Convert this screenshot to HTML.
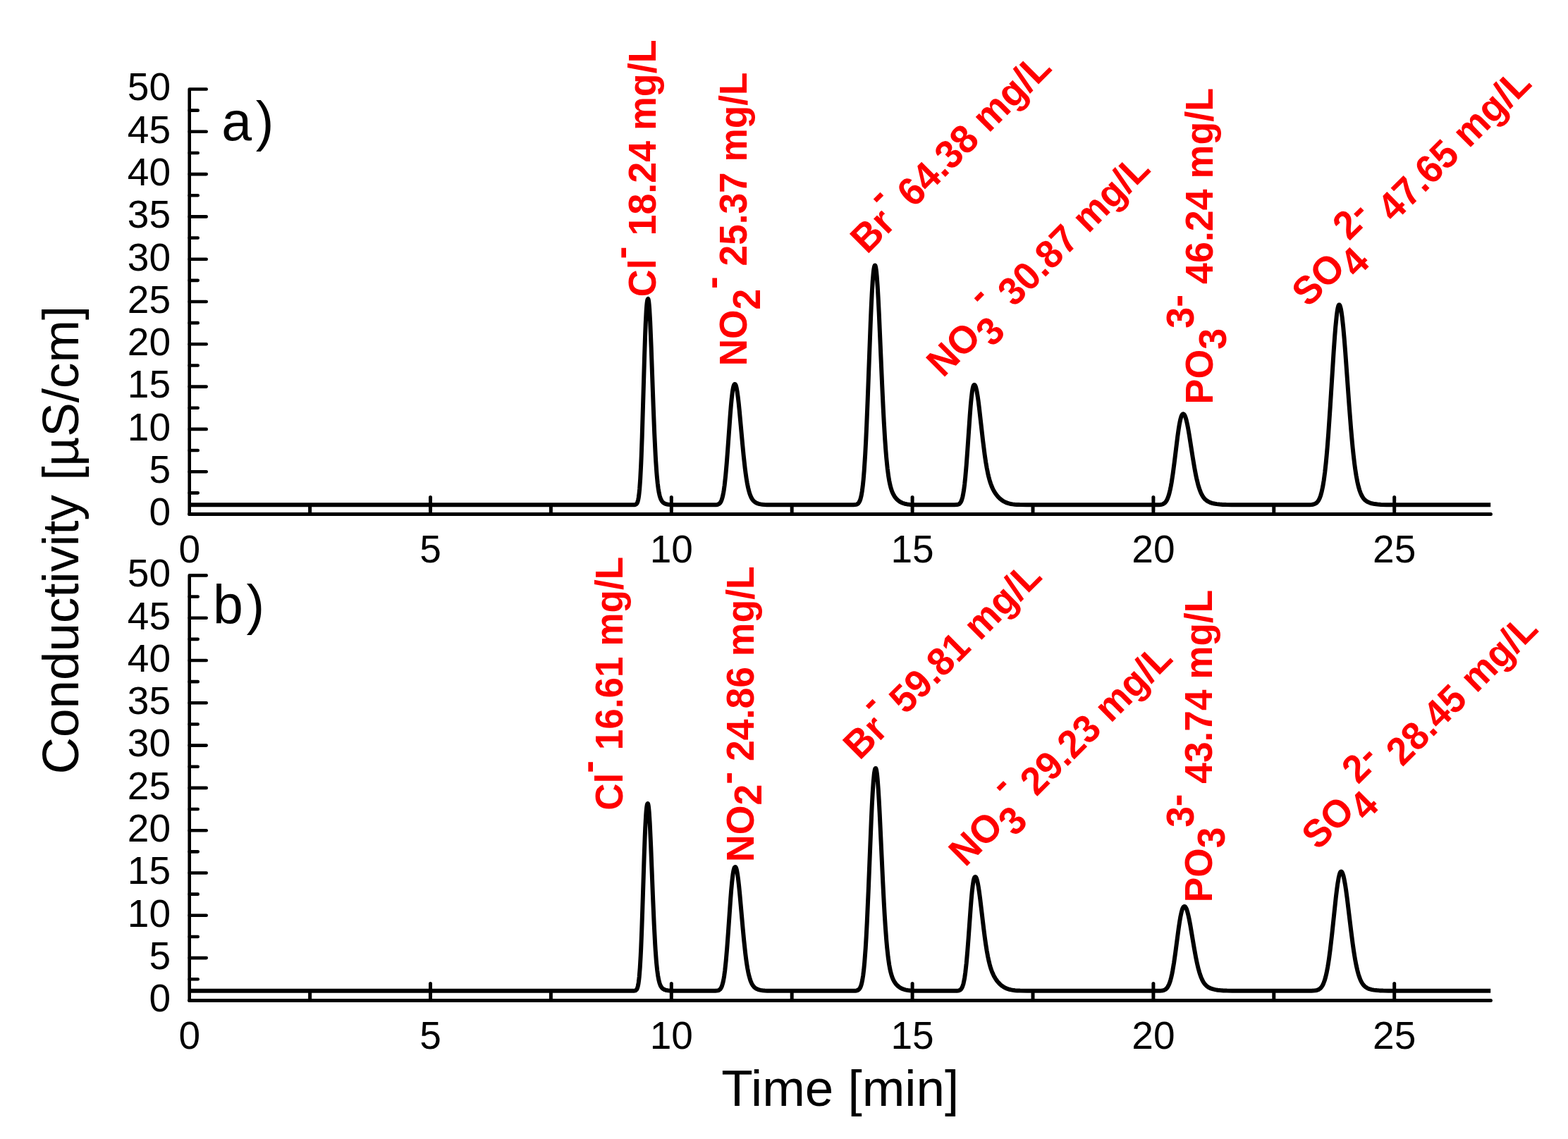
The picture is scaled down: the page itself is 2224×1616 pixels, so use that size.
<!DOCTYPE html>
<html><head><meta charset="utf-8"><title>Conductivity chromatogram</title><style>
html,body{margin:0;padding:0;background:#fff;}
svg{display:block;}
.ax{fill:none;stroke:#000;stroke-width:4.6;stroke-linecap:round;stroke-linejoin:round;}
.sig{fill:none;stroke:#000;stroke-width:6;stroke-linejoin:round;stroke-linecap:butt;}
text{font-family:"Liberation Sans",sans-serif;}
.tl{font-size:55px;fill:#000;}
.rl{font-size:54px;font-weight:bold;fill:#f00;}
.pl{font-size:77px;fill:#000;}
.tt{font-size:72.8px;fill:#000;}
</style></head><body>
<svg width="2224" height="1616" viewBox="0 0 2224 1616">
<rect width="100%" height="100%" fill="#fff"/>
<path d="M292.7,126.50 H268.70 V729.50" class="ax"/>
<path d="M268.70,729.50 H2114.42" class="ax" style="stroke-width:5"/>
<path d="M268.70,729.50 h24" class="ax"/>
<path d="M268.70,699.35 h12" class="ax"/>
<path d="M268.70,669.20 h24" class="ax"/>
<path d="M268.70,639.05 h12" class="ax"/>
<path d="M268.70,608.90 h24" class="ax"/>
<path d="M268.70,578.75 h12" class="ax"/>
<path d="M268.70,548.60 h24" class="ax"/>
<path d="M268.70,518.45 h12" class="ax"/>
<path d="M268.70,488.30 h24" class="ax"/>
<path d="M268.70,458.15 h12" class="ax"/>
<path d="M268.70,428.00 h24" class="ax"/>
<path d="M268.70,397.85 h12" class="ax"/>
<path d="M268.70,367.70 h24" class="ax"/>
<path d="M268.70,337.55 h12" class="ax"/>
<path d="M268.70,307.40 h24" class="ax"/>
<path d="M268.70,277.25 h12" class="ax"/>
<path d="M268.70,247.10 h24" class="ax"/>
<path d="M268.70,216.95 h12" class="ax"/>
<path d="M268.70,186.80 h24" class="ax"/>
<path d="M268.70,156.65 h12" class="ax"/>
<path d="M439.60,729.50 v-12" class="ax" style="stroke-width:5"/>
<path d="M610.50,729.50 v-24" class="ax" style="stroke-width:5"/>
<path d="M781.40,729.50 v-12" class="ax" style="stroke-width:5"/>
<path d="M952.30,729.50 v-24" class="ax" style="stroke-width:5"/>
<path d="M1123.20,729.50 v-12" class="ax" style="stroke-width:5"/>
<path d="M1294.10,729.50 v-24" class="ax" style="stroke-width:5"/>
<path d="M1465.00,729.50 v-12" class="ax" style="stroke-width:5"/>
<path d="M1635.90,729.50 v-24" class="ax" style="stroke-width:5"/>
<path d="M1806.80,729.50 v-12" class="ax" style="stroke-width:5"/>
<path d="M1977.70,729.50 v-24" class="ax" style="stroke-width:5"/>
<text x="242" y="745.3" class="tl" text-anchor="end">0</text>
<text x="242" y="685.0" class="tl" text-anchor="end">5</text>
<text x="242" y="624.7" class="tl" text-anchor="end">10</text>
<text x="242" y="564.4" class="tl" text-anchor="end">15</text>
<text x="242" y="504.1" class="tl" text-anchor="end">20</text>
<text x="242" y="443.8" class="tl" text-anchor="end">25</text>
<text x="242" y="383.5" class="tl" text-anchor="end">30</text>
<text x="242" y="323.2" class="tl" text-anchor="end">35</text>
<text x="242" y="262.9" class="tl" text-anchor="end">40</text>
<text x="242" y="202.6" class="tl" text-anchor="end">45</text>
<text x="242" y="142.3" class="tl" text-anchor="end">50</text>
<text x="268.7" y="797.6" class="tl" text-anchor="middle">0</text>
<text x="610.5" y="797.6" class="tl" text-anchor="middle">5</text>
<text x="952.3" y="797.6" class="tl" text-anchor="middle">10</text>
<text x="1294.1" y="797.6" class="tl" text-anchor="middle">15</text>
<text x="1635.9" y="797.6" class="tl" text-anchor="middle">20</text>
<text x="1977.7" y="797.6" class="tl" text-anchor="middle">25</text>
<polyline class="sig" points="268.7,716.30 895.7,716.30 899.7,716.21 900.7,716.07 901.7,715.75 902.2,715.46 902.7,715.04 903.2,714.44 903.7,713.61 904.2,712.46 904.7,710.92 905.2,708.87 905.7,706.20 906.2,702.78 906.7,698.48 907.2,693.16 908.2,678.98 909.2,659.46 909.7,647.59 910.7,619.84 914.2,501.97 915.2,472.54 915.7,460.10 916.7,440.69 917.2,433.89 917.7,429.00 918.2,425.90 918.7,424.36 919.2,424.00 919.7,424.98 920.2,427.90 920.7,432.69 921.2,439.27 922.2,457.19 923.7,493.21 926.7,576.97 928.2,614.62 929.7,645.47 930.2,654.07 931.2,668.82 931.7,675.03 932.7,685.35 933.7,693.25 934.7,699.16 935.7,703.54 936.2,705.27 937.2,708.01 937.7,709.09 938.7,710.82 939.2,711.50 940.2,712.61 941.2,713.45 942.2,714.09 943.2,714.59 944.7,715.14 946.2,715.53 947.7,715.79 951.2,716.13 954.7,716.25 960.2,716.29 1010.7,716.30 1015.7,716.17 1017.2,715.97 1018.2,715.73 1019.2,715.33 1020.2,714.70 1021.2,713.74 1022.2,712.32 1023.2,710.28 1023.7,708.96 1024.7,705.63 1025.2,703.57 1026.2,698.51 1026.7,695.47 1027.7,688.30 1029.2,674.64 1030.7,657.63 1032.2,637.89 1035.7,589.05 1036.7,576.74 1037.7,566.11 1038.7,557.51 1039.2,554.06 1039.7,551.18 1040.2,548.89 1040.7,547.16 1041.2,545.97 1041.7,545.28 1042.2,545.02 1042.4,545.00 1042.7,545.09 1043.2,545.67 1043.7,546.76 1044.2,548.37 1044.7,550.46 1045.7,556.04 1046.7,563.29 1047.7,571.96 1048.7,581.74 1053.2,631.04 1054.7,646.47 1056.7,664.51 1057.7,672.24 1058.7,679.09 1059.7,685.07 1060.7,690.23 1061.7,694.63 1063.2,699.96 1064.2,702.80 1065.7,706.16 1067.2,708.67 1068.2,709.98 1069.2,711.05 1070.7,712.32 1072.2,713.27 1074.2,714.20 1076.2,714.84 1078.7,715.39 1081.2,715.74 1084.2,716.00 1087.7,716.16 1101.2,716.30 1207.7,716.29 1210.7,716.24 1212.7,716.11 1214.2,715.86 1215.2,715.55 1216.2,715.05 1217.2,714.27 1218.2,713.09 1219.2,711.34 1220.2,708.80 1220.7,707.16 1221.7,702.95 1222.7,697.25 1223.7,689.72 1224.7,680.01 1225.7,667.85 1227.2,644.51 1228.2,625.45 1229.2,603.71 1230.7,566.83 1234.7,460.06 1235.7,436.48 1236.7,416.06 1237.7,399.53 1238.7,387.40 1239.2,383.07 1239.7,379.87 1240.2,377.78 1240.7,376.72 1241.1,376.50 1241.2,376.52 1241.7,377.37 1242.2,379.41 1242.7,382.62 1243.2,386.96 1243.7,392.39 1244.7,406.26 1245.7,423.60 1246.7,443.70 1251.2,546.98 1252.7,578.83 1253.7,597.96 1255.2,623.00 1256.2,637.16 1257.2,649.37 1258.7,664.32 1260.2,675.77 1261.2,681.80 1262.2,686.78 1263.2,690.89 1264.2,694.31 1265.2,697.15 1266.2,699.55 1267.2,701.59 1268.7,704.14 1270.2,706.22 1272.2,708.47 1273.7,709.85 1275.7,711.36 1277.7,712.57 1280.2,713.73 1283.2,714.70 1286.7,715.42 1290.7,715.88 1295.2,716.13 1307.2,716.29 1353.7,716.28 1357.2,716.10 1358.7,715.81 1359.7,715.44 1360.7,714.83 1361.2,714.41 1362.2,713.24 1362.7,712.45 1363.7,710.35 1364.2,708.98 1365.2,705.46 1365.7,703.26 1366.7,697.83 1367.2,694.55 1368.2,686.77 1369.2,677.29 1370.7,659.98 1372.2,639.58 1375.7,588.70 1376.7,576.02 1377.7,565.24 1378.7,556.75 1379.2,553.45 1379.7,550.77 1380.2,548.73 1380.7,547.30 1381.2,546.43 1381.7,546.04 1382.0,546.00 1382.2,546.03 1382.7,546.39 1383.2,547.13 1383.7,548.27 1384.2,549.77 1385.2,553.86 1385.7,556.41 1386.7,562.40 1387.7,569.44 1388.7,577.31 1394.2,625.75 1396.7,645.39 1398.2,655.49 1399.7,664.25 1401.2,671.70 1402.2,676.00 1403.2,679.83 1404.2,683.24 1405.2,686.27 1406.2,688.97 1407.7,692.51 1408.7,694.58 1410.2,697.33 1411.7,699.74 1413.2,701.86 1414.7,703.75 1416.7,705.95 1418.2,707.39 1420.2,709.06 1422.2,710.48 1424.2,711.67 1426.2,712.66 1428.7,713.64 1431.2,714.39 1433.7,714.96 1436.2,715.37 1439.2,715.71 1442.2,715.94 1446.2,716.12 1456.2,716.27 1639.7,716.28 1643.7,716.19 1646.2,715.97 1648.2,715.57 1649.2,715.25 1650.2,714.80 1651.7,713.81 1653.2,712.30 1654.2,710.92 1654.7,710.09 1655.7,708.12 1656.7,705.67 1657.7,702.69 1658.7,699.12 1659.7,694.90 1660.7,690.02 1661.7,684.45 1663.7,671.36 1665.7,656.13 1670.2,619.63 1671.7,608.97 1672.7,602.81 1673.7,597.59 1674.2,595.36 1675.2,591.72 1675.7,590.32 1676.2,589.20 1676.7,588.35 1677.2,587.76 1677.7,587.42 1678.3,587.30 1678.7,587.38 1679.2,587.69 1679.7,588.23 1680.2,589.01 1681.2,591.25 1681.7,592.69 1682.7,596.19 1684.2,602.81 1685.2,608.00 1686.7,616.67 1691.7,648.63 1694.2,663.62 1695.7,671.67 1696.7,676.56 1697.7,681.06 1699.2,687.06 1700.2,690.56 1701.7,695.13 1703.2,698.93 1704.7,702.05 1706.2,704.59 1707.7,706.65 1708.7,707.80 1709.7,708.79 1711.7,710.41 1713.7,711.64 1716.2,712.80 1719.2,713.80 1722.2,714.52 1725.7,715.12 1729.7,715.59 1734.2,715.91 1739.2,716.11 1746.7,716.24 1757.7,716.29 1853.7,716.27 1857.7,716.18 1860.7,715.94 1863.2,715.47 1865.2,714.74 1866.7,713.86 1867.7,713.06 1868.7,712.02 1869.7,710.70 1870.7,709.03 1871.7,706.96 1873.2,702.92 1874.7,697.50 1876.2,690.42 1877.7,681.38 1879.2,670.11 1880.7,656.41 1881.7,645.88 1882.7,634.23 1884.2,614.76 1886.7,577.80 1891.7,498.24 1893.2,477.04 1894.2,464.59 1895.7,449.18 1896.7,441.46 1897.2,438.45 1897.7,436.03 1898.2,434.21 1898.7,433.02 1899.2,432.45 1899.4,432.40 1899.7,432.49 1900.2,433.04 1900.7,434.09 1901.2,435.63 1901.7,437.65 1902.2,440.14 1902.7,443.09 1903.7,450.30 1905.2,464.08 1906.7,480.85 1908.2,499.87 1913.7,576.38 1916.2,608.45 1917.7,625.59 1918.7,635.99 1919.7,645.54 1921.2,658.25 1922.2,665.68 1923.7,675.32 1925.2,683.32 1926.7,689.85 1928.2,695.13 1929.7,699.35 1930.7,701.66 1931.7,703.65 1932.7,705.34 1933.7,706.79 1934.7,708.02 1935.7,709.08 1937.7,710.76 1938.7,711.44 1940.2,712.28 1942.7,713.36 1945.7,714.28 1949.7,715.08 1953.7,715.58 1958.7,715.95 1966.7,716.20 1978.7,716.29 2114.2,716.30"/>
<path d="M292.7,816.40 H268.70 V1419.40" class="ax"/>
<path d="M268.70,1419.40 H2114.42" class="ax" style="stroke-width:5"/>
<path d="M268.70,1419.40 h24" class="ax"/>
<path d="M268.70,1389.25 h12" class="ax"/>
<path d="M268.70,1359.10 h24" class="ax"/>
<path d="M268.70,1328.95 h12" class="ax"/>
<path d="M268.70,1298.80 h24" class="ax"/>
<path d="M268.70,1268.65 h12" class="ax"/>
<path d="M268.70,1238.50 h24" class="ax"/>
<path d="M268.70,1208.35 h12" class="ax"/>
<path d="M268.70,1178.20 h24" class="ax"/>
<path d="M268.70,1148.05 h12" class="ax"/>
<path d="M268.70,1117.90 h24" class="ax"/>
<path d="M268.70,1087.75 h12" class="ax"/>
<path d="M268.70,1057.60 h24" class="ax"/>
<path d="M268.70,1027.45 h12" class="ax"/>
<path d="M268.70,997.30 h24" class="ax"/>
<path d="M268.70,967.15 h12" class="ax"/>
<path d="M268.70,937.00 h24" class="ax"/>
<path d="M268.70,906.85 h12" class="ax"/>
<path d="M268.70,876.70 h24" class="ax"/>
<path d="M268.70,846.55 h12" class="ax"/>
<path d="M439.60,1419.40 v-12" class="ax" style="stroke-width:5"/>
<path d="M610.50,1419.40 v-24" class="ax" style="stroke-width:5"/>
<path d="M781.40,1419.40 v-12" class="ax" style="stroke-width:5"/>
<path d="M952.30,1419.40 v-24" class="ax" style="stroke-width:5"/>
<path d="M1123.20,1419.40 v-12" class="ax" style="stroke-width:5"/>
<path d="M1294.10,1419.40 v-24" class="ax" style="stroke-width:5"/>
<path d="M1465.00,1419.40 v-12" class="ax" style="stroke-width:5"/>
<path d="M1635.90,1419.40 v-24" class="ax" style="stroke-width:5"/>
<path d="M1806.80,1419.40 v-12" class="ax" style="stroke-width:5"/>
<path d="M1977.70,1419.40 v-24" class="ax" style="stroke-width:5"/>
<text x="242" y="1435.2" class="tl" text-anchor="end">0</text>
<text x="242" y="1374.9" class="tl" text-anchor="end">5</text>
<text x="242" y="1314.6" class="tl" text-anchor="end">10</text>
<text x="242" y="1254.3" class="tl" text-anchor="end">15</text>
<text x="242" y="1194.0" class="tl" text-anchor="end">20</text>
<text x="242" y="1133.7" class="tl" text-anchor="end">25</text>
<text x="242" y="1073.4" class="tl" text-anchor="end">30</text>
<text x="242" y="1013.1" class="tl" text-anchor="end">35</text>
<text x="242" y="952.8" class="tl" text-anchor="end">40</text>
<text x="242" y="892.5" class="tl" text-anchor="end">45</text>
<text x="242" y="832.2" class="tl" text-anchor="end">50</text>
<text x="268.7" y="1487.5" class="tl" text-anchor="middle">0</text>
<text x="610.5" y="1487.5" class="tl" text-anchor="middle">5</text>
<text x="952.3" y="1487.5" class="tl" text-anchor="middle">10</text>
<text x="1294.1" y="1487.5" class="tl" text-anchor="middle">15</text>
<text x="1635.9" y="1487.5" class="tl" text-anchor="middle">20</text>
<text x="1977.7" y="1487.5" class="tl" text-anchor="middle">25</text>
<polyline class="sig" points="268.7,1405.80 895.2,1405.80 899.2,1405.73 900.2,1405.61 901.2,1405.34 902.2,1404.74 902.7,1404.24 903.2,1403.53 903.7,1402.55 904.2,1401.22 904.7,1399.46 905.2,1397.15 905.7,1394.19 906.2,1390.45 906.7,1385.81 907.7,1373.37 908.7,1356.12 909.2,1345.58 910.2,1320.81 911.2,1291.91 913.7,1213.82 914.7,1186.58 915.2,1174.96 916.2,1156.62 916.7,1150.09 917.2,1145.30 917.7,1142.17 918.2,1140.51 918.7,1140.01 918.8,1140.00 919.2,1140.57 919.7,1142.87 920.2,1146.90 920.7,1152.56 921.7,1168.31 923.2,1200.53 926.2,1276.64 927.7,1311.23 929.2,1339.73 929.7,1347.71 930.7,1361.42 931.2,1367.20 932.2,1376.83 933.2,1384.21 934.2,1389.75 935.2,1393.85 935.7,1395.47 936.7,1398.05 937.2,1399.06 938.2,1400.68 938.7,1401.32 939.7,1402.36 940.7,1403.14 941.7,1403.74 942.7,1404.21 944.2,1404.72 945.7,1405.08 947.2,1405.33 951.2,1405.66 960.2,1405.79 1012.2,1405.79 1014.7,1405.75 1016.7,1405.61 1018.2,1405.35 1019.2,1405.03 1020.2,1404.52 1021.2,1403.72 1022.2,1402.51 1022.7,1401.72 1023.7,1399.62 1024.2,1398.27 1025.2,1394.85 1025.7,1392.73 1026.7,1387.54 1027.2,1384.43 1028.2,1377.06 1029.7,1363.05 1031.2,1345.58 1032.7,1325.33 1036.2,1275.20 1037.2,1262.58 1038.2,1251.66 1039.2,1242.84 1039.7,1239.29 1040.2,1236.34 1040.7,1233.99 1041.2,1232.22 1041.7,1231.00 1042.2,1230.29 1042.7,1230.02 1042.9,1230.00 1043.2,1230.10 1043.7,1230.69 1044.2,1231.81 1044.7,1233.45 1045.2,1235.60 1046.2,1241.33 1047.2,1248.77 1048.2,1257.67 1049.2,1267.71 1053.7,1318.30 1055.2,1334.14 1057.2,1352.65 1058.2,1360.59 1059.2,1367.62 1060.2,1373.75 1061.2,1379.05 1062.2,1383.56 1063.7,1389.03 1064.7,1391.94 1066.2,1395.39 1067.7,1397.97 1068.7,1399.31 1069.7,1400.42 1071.2,1401.72 1072.7,1402.69 1074.7,1403.64 1076.7,1404.30 1079.2,1404.87 1081.7,1405.23 1084.7,1405.49 1088.2,1405.66 1101.7,1405.80 1208.2,1405.79 1213.2,1405.66 1214.7,1405.47 1215.7,1405.23 1216.7,1404.85 1217.7,1404.24 1218.7,1403.31 1219.7,1401.92 1220.7,1399.87 1221.2,1398.55 1222.2,1395.11 1223.2,1390.40 1224.2,1384.12 1225.2,1375.94 1226.2,1365.58 1227.7,1345.44 1228.7,1328.76 1229.7,1309.53 1231.7,1264.46 1235.7,1165.35 1236.7,1143.70 1237.7,1125.05 1238.7,1110.09 1239.7,1099.24 1240.2,1095.42 1240.7,1092.66 1241.2,1090.92 1241.7,1090.11 1242.0,1090.00 1242.2,1090.09 1242.7,1091.10 1243.2,1093.21 1243.7,1096.41 1244.2,1100.66 1244.7,1105.90 1245.7,1119.13 1246.7,1135.54 1247.7,1154.43 1252.2,1250.50 1253.7,1279.90 1254.7,1297.50 1255.7,1313.29 1257.2,1333.47 1258.2,1344.64 1259.7,1358.29 1261.2,1368.74 1262.2,1374.24 1263.2,1378.78 1264.2,1382.53 1265.2,1385.65 1266.2,1388.25 1267.2,1390.44 1268.2,1392.31 1269.7,1394.64 1271.2,1396.55 1273.2,1398.61 1274.7,1399.88 1276.7,1401.27 1278.7,1402.38 1281.2,1403.44 1284.2,1404.34 1287.7,1405.00 1291.7,1405.42 1296.2,1405.65 1308.2,1405.79 1354.7,1405.79 1358.2,1405.64 1359.7,1405.41 1360.7,1405.10 1361.7,1404.61 1362.2,1404.26 1363.2,1403.28 1363.7,1402.61 1364.7,1400.82 1365.2,1399.65 1366.2,1396.62 1366.7,1394.70 1367.7,1389.95 1368.2,1387.05 1369.2,1380.13 1370.7,1366.75 1372.2,1349.85 1373.7,1330.17 1376.7,1288.45 1377.7,1275.97 1378.7,1265.14 1379.7,1256.39 1380.7,1249.99 1381.2,1247.69 1381.7,1245.98 1382.2,1244.84 1382.7,1244.21 1383.3,1244.00 1383.7,1244.12 1384.2,1244.61 1384.7,1245.46 1385.2,1246.68 1386.2,1250.17 1386.7,1252.40 1387.7,1257.76 1388.7,1264.17 1390.2,1275.32 1395.2,1317.34 1396.7,1329.11 1398.2,1339.78 1399.7,1349.21 1401.2,1357.36 1402.7,1364.28 1403.7,1368.28 1404.7,1371.83 1405.7,1374.99 1406.7,1377.80 1407.7,1380.31 1409.2,1383.60 1410.2,1385.53 1411.7,1388.10 1413.2,1390.35 1414.7,1392.34 1416.2,1394.10 1418.2,1396.16 1419.7,1397.51 1421.7,1399.07 1423.7,1400.40 1425.7,1401.51 1427.7,1402.42 1429.7,1403.18 1431.7,1403.78 1434.2,1404.37 1436.7,1404.80 1439.7,1405.17 1442.7,1405.41 1446.7,1405.60 1456.7,1405.77 1641.2,1405.79 1645.2,1405.70 1647.7,1405.52 1649.7,1405.18 1650.7,1404.89 1651.7,1404.50 1653.2,1403.63 1654.7,1402.31 1656.2,1400.35 1657.2,1398.60 1658.2,1396.42 1659.2,1393.76 1660.2,1390.55 1661.2,1386.76 1662.2,1382.35 1663.2,1377.30 1665.2,1365.38 1667.2,1351.40 1671.7,1317.44 1673.2,1307.36 1674.2,1301.48 1675.7,1294.28 1676.7,1290.70 1677.2,1289.29 1677.7,1288.15 1678.2,1287.26 1678.7,1286.62 1679.2,1286.21 1679.7,1286.02 1680.0,1286.00 1680.7,1286.22 1681.2,1286.64 1681.7,1287.27 1682.7,1289.18 1683.2,1290.45 1684.2,1293.55 1685.7,1299.51 1686.7,1304.22 1688.2,1312.15 1693.7,1344.70 1696.2,1358.43 1697.7,1365.75 1698.7,1370.19 1699.7,1374.25 1701.2,1379.66 1702.2,1382.81 1703.7,1386.90 1705.2,1390.29 1706.7,1393.08 1708.2,1395.34 1709.7,1397.17 1711.7,1399.08 1713.7,1400.52 1715.7,1401.62 1718.2,1402.66 1720.7,1403.43 1723.7,1404.11 1727.2,1404.68 1730.7,1405.07 1735.2,1405.40 1740.2,1405.61 1747.7,1405.74 1758.7,1405.79 1856.2,1405.79 1860.2,1405.73 1863.2,1405.61 1865.7,1405.35 1867.7,1404.95 1869.2,1404.47 1870.2,1404.02 1871.2,1403.45 1872.2,1402.71 1873.2,1401.79 1874.2,1400.63 1875.7,1398.36 1877.2,1395.31 1878.7,1391.30 1880.2,1386.15 1881.7,1379.71 1883.2,1371.84 1884.2,1365.76 1885.2,1359.01 1886.7,1347.68 1889.2,1325.99 1894.7,1273.99 1896.2,1261.56 1897.2,1254.32 1898.7,1245.48 1899.7,1241.14 1900.2,1239.49 1900.7,1238.19 1901.2,1237.25 1901.7,1236.69 1902.2,1236.50 1902.7,1236.65 1903.2,1237.10 1903.7,1237.84 1904.2,1238.87 1905.2,1241.79 1905.7,1243.65 1906.7,1248.15 1908.2,1256.63 1909.2,1263.27 1910.7,1274.38 1916.2,1319.93 1918.7,1339.32 1920.2,1349.75 1921.2,1356.10 1922.2,1361.95 1923.7,1369.76 1925.2,1376.44 1926.7,1382.05 1928.2,1386.70 1929.7,1390.49 1931.2,1393.54 1932.7,1395.98 1933.7,1397.32 1934.7,1398.47 1935.7,1399.45 1936.7,1400.28 1938.7,1401.61 1940.7,1402.58 1943.2,1403.46 1945.7,1404.09 1948.7,1404.62 1952.7,1405.09 1956.7,1405.38 1961.7,1405.60 1969.2,1405.74 1981.2,1405.79 2114.2,1405.80"/>
<text class="rl" style="font-size:53.8px" transform="translate(930.20,421.20) rotate(-90) scale(1,1.045)" x="0" y="0"><tspan>Cl</tspan><tspan dy="-30.33">-</tspan><tspan dy="30.33"> 18.24 mg/L</tspan></text>
<text class="rl" style="font-size:53.2px" transform="translate(1059.40,519.30) rotate(-90) scale(1,1.045)" x="0" y="0"><tspan>NO</tspan><tspan dy="17.80">2</tspan><tspan dy="-48.13">-</tspan><tspan dy="30.33"> 25.37 mg/L</tspan></text>
<text class="rl" style="font-size:54.1px" transform="translate(1229.70,361.70) rotate(-44.88) scale(1,1.045)" x="0" y="0"><tspan>Br</tspan><tspan dy="-30.33">-</tspan><tspan dy="30.33"> 64.38 mg/L</tspan></text>
<text class="rl" style="font-size:53.36px" transform="translate(1337.42,537.08) rotate(-44.84) scale(1,1.045)" x="0" y="0"><tspan>NO</tspan><tspan dy="17.80">3</tspan><tspan dy="-48.13">-</tspan><tspan dy="30.33"> 30.87 mg/L</tspan></text>
<text class="rl" style="font-size:53.8px" transform="translate(1720.00,573.40) rotate(-90) scale(1,1.045)" x="0" y="0"><tspan>PO</tspan><tspan dy="17.70">3</tspan><tspan dy="-43.16">3</tspan><tspan dy="-4.88">-</tspan><tspan dy="30.33"> 46.24 mg/L</tspan></text>
<text class="rl" style="font-size:53.9px" transform="translate(1855.75,437.27) rotate(-44.78) scale(1,1.045)" x="0" y="0"><tspan>SO</tspan><tspan dy="17.80">4</tspan><tspan dy="-43.25">2</tspan><tspan dy="-4.88">-</tspan><tspan dy="30.33"> 47.65 mg/L</tspan></text>
<text class="rl" style="font-size:53.1px" transform="translate(883.00,1149.80) rotate(-90) scale(1,1.045)" x="0" y="0"><tspan>Cl</tspan><tspan dy="-29.38">-</tspan><tspan dy="29.38"> 16.61 mg/L</tspan></text>
<text class="rl" style="font-size:53.56px" transform="translate(1068.60,1222.90) rotate(-90) scale(1,1.045)" x="0" y="0"><tspan>NO</tspan><tspan dy="10.91">2</tspan><tspan dy="-29.47">-</tspan><tspan dy="18.56"> 24.86 mg/L</tspan></text>
<text class="rl" style="font-size:53.42px" transform="translate(1219.32,1079.86) rotate(-44.86) scale(1,1.045)" x="0" y="0"><tspan>Br</tspan><tspan dy="-30.33">-</tspan><tspan dy="30.33"> 59.81 mg/L</tspan></text>
<text class="rl" style="font-size:53.34px" transform="translate(1369.02,1231.32) rotate(-44.79) scale(1,1.045)" x="0" y="0"><tspan>NO</tspan><tspan dy="17.80">3</tspan><tspan dy="-48.13">-</tspan><tspan dy="30.33"> 29.23 mg/L</tspan></text>
<text class="rl" style="font-size:53.2px" transform="translate(1718.70,1280.20) rotate(-90) scale(1,1.045)" x="0" y="0"><tspan>PO</tspan><tspan dy="17.22">3</tspan><tspan dy="-41.72">3</tspan><tspan dy="-5.84">-</tspan><tspan dy="30.33"> 43.74 mg/L</tspan></text>
<text class="rl" style="font-size:53.2px" transform="translate(1869.57,1207.59) rotate(-44.83) scale(1,1.045)" x="0" y="0"><tspan>SO</tspan><tspan dy="17.80">4</tspan><tspan dy="-43.25">2</tspan><tspan dy="-4.88">-</tspan><tspan dy="30.33"> 28.45 mg/L</tspan></text>
<text x="314.3" y="199" class="pl">a<tspan x="362.7">)</tspan></text>
<text x="302.0" y="885" class="pl">b<tspan x="349.5">)</tspan></text>
<text x="1023.2" y="1569.3" class="tt">Time [min]</text>
<text class="tt" transform="translate(110.8,1098.6) rotate(-90)">Conductivity [µS/cm]</text>
</svg>
</body></html>
